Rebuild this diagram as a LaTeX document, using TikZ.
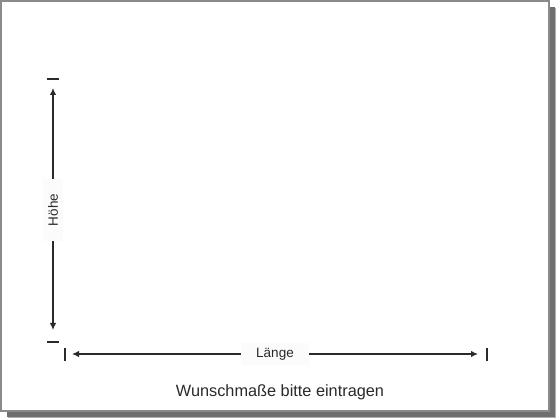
\documentclass[tikz,border=0pt]{standalone}
\usepackage{fontspec}
\setmainfont{Liberation Sans}
\usetikzlibrary{arrows.meta}
\definecolor{frameGray}{HTML}{8A8A8A}
\definecolor{shadowGray}{HTML}{6E6E6E}
\definecolor{inkGray}{HTML}{2A2A2A}
\definecolor{labelBack}{HTML}{FBFBFB}
\newcommand{\dimTick}[2]{%
  \draw[tickStyle] (#1) -- (#2);
}

\begin{document}
\begin{tikzpicture}[x=1pt,y=1pt,%
  tickStyle/.style={-,line width=1.2pt,inkGray},%
  dimStyle/.style={-{Latex[length=7pt,width=6.5pt]},line width=1.2pt,inkGray},%
  labelStyle/.style={fill=labelBack,text=inkGray,font=\fontsize{13.5}{15}\selectfont,inner xsep=15pt,inner ysep=5pt}%
]
%
%
\pgfmathsetmacro{\shadowOff}{6}
%
\useasboundingbox (0,0) rectangle (560,420);
%
% The sheet with its shadow.
\fill[shadowGray!55] (1+\shadowOff+1,9-\shadowOff-1) rectangle (549+\shadowOff+1,419-\shadowOff-1);
\fill[shadowGray] (1+\shadowOff,9-\shadowOff) rectangle (549+\shadowOff,419-\shadowOff);
\draw[frameGray,line width=1.5pt,fill=white] (1,9) rectangle (549,419);
%
% Height.
\coordinate (hTickL) at (47,341);
\coordinate (hTickR) at (59,341);
\coordinate (hTopTip) at (53,332);
\coordinate (hBotTip) at (53,90);
\coordinate (hLowL) at (47,78);
\coordinate (hLowR) at (59,78);
\node[labelStyle,rotate=90] (hoehe) at (53,210) {Höhe};
\dimTick{hTickL}{hTickR}
\dimTick{hLowL}{hLowR}
\draw[dimStyle] (hoehe.east) -- (hTopTip);
\draw[dimStyle] (hoehe.west) -- (hBotTip);
%
% Length.
\coordinate (lTickTop) at (65,72);
\coordinate (lTickBot) at (65,59);
\coordinate (rTickTop) at (487,72);
\coordinate (rTickBot) at (487,59);
\coordinate (lTip) at (72,66);
\coordinate (rTip) at (478,66);
\node[labelStyle] (laenge) at (275,66) {Länge};
\dimTick{lTickTop}{lTickBot}
\dimTick{rTickTop}{rTickBot}
\draw[dimStyle] (laenge.west) -- (lTip);
\draw[dimStyle] (laenge.east) -- (rTip);
%
% Note below.
\node[text=inkGray,font=\fontsize{16.3}{18}\selectfont] (hint) at (280,28) {Wunschmaße bitte eintragen};
\end{tikzpicture}
\end{document}
